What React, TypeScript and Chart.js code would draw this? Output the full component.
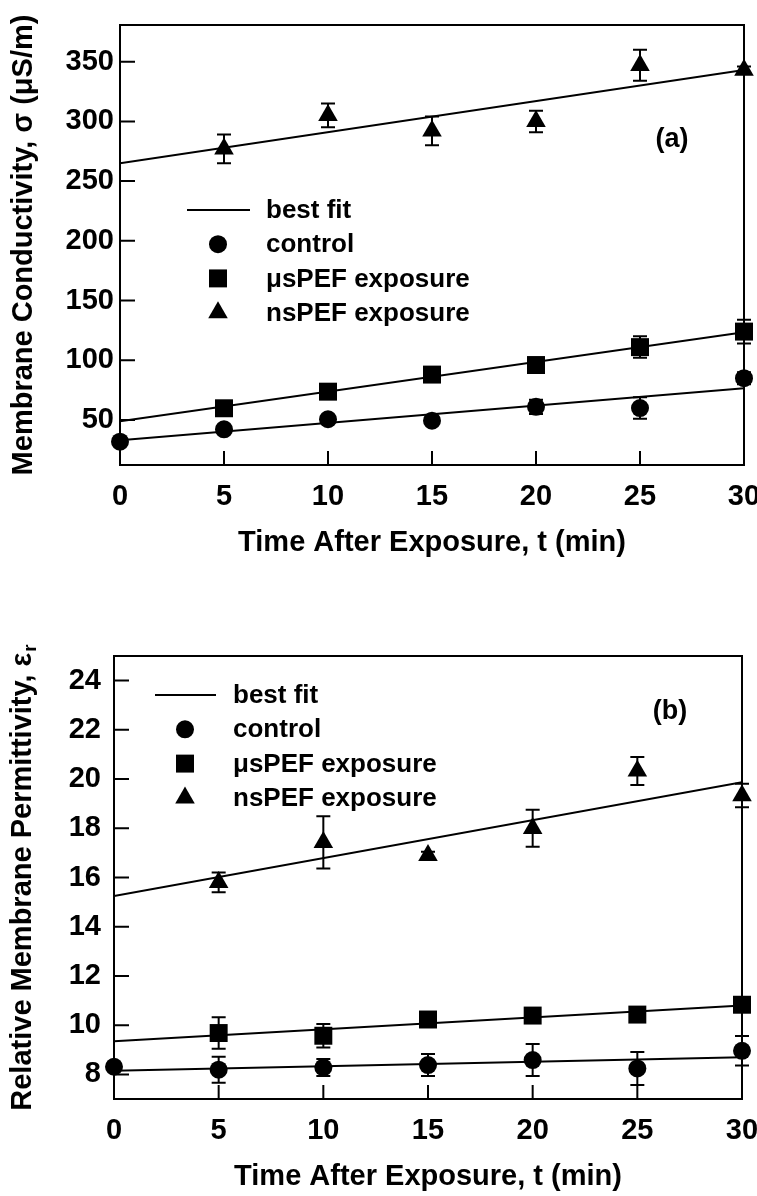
import React, { useEffect, useRef } from 'react';
import { Chart, registerables } from 'chart.js';

Chart.register(...registerables);

const FONT = "'Liberation Sans', Arial, Helvetica, sans-serif";

// ---------- shared ----------
const times = [0, 5, 10, 15, 20, 25, 30];
const exposureTimes = [5, 10, 15, 20, 25, 30];
const fitTimes = [0, 30];
const xTicks = [0, 5, 10, 15, 20, 25, 30];
const xTitle = 'Time After Exposure, t (min)';
const legendLabels = ['best fit', 'control', 'μsPEF exposure', 'nsPEF exposure'];

// ---------- panel (a): conductivity ----------
const yTicksA = [50, 100, 150, 200, 250, 300, 350];
const yTitleA = 'Membrane Conductivity, σ (μS/m)';
const controlA = [31.8, 42.2, 50.6, 49.4, 61, 60, 85];
const controlErrA = [0, 2, 2, 3, 6, 9, 5];
const usA = [59.8, 73.7, 88, 96, 111, 124];
const usErrA = [2, 2, 3, 3, 9, 10];
const nsA = [277, 305, 292, 300, 347, 343];
const nsErrA = [12, 10, 12, 9, 13, 3];
const fitControlA = [33, 76.5];
const fitUsA = [49, 123.5];
const fitNsA = [265, 343];

// ---------- panel (b): permittivity ----------
const yTicksB = [8, 10, 12, 14, 16, 18, 20, 22, 24];
const yTitleB = 'Relative Membrane Permittivity, ε';
const yTitleBSub = 'r';
const controlB = [8.31, 8.19, 8.28, 8.38, 8.58, 8.24, 8.96];
const controlErrB = [0, 0.53, 0.35, 0.45, 0.65, 0.67, 0.6];
const usB = [9.68, 9.57, 10.23, 10.39, 10.43, 10.83];
const usErrB = [0.64, 0.48, 0.1, 0.1, 0.1, 0.25];
const nsB = [15.8, 17.43, 16.9, 18.0, 20.33, 19.33];
const nsErrB = [0.4, 1.06, 0.15, 0.75, 0.57, 0.48];
const fitControlB = [8.15, 8.7];
const fitUsB = [9.35, 10.8];
const fitNsB = [15.25, 19.87];

const R_CIRCLE = 9;
const R_RECT = 12.7;
const R_TRI = 11.3;

const pts = (xs: number[], ys: number[]) => xs.map((x, i) => ({ x, y: ys[i] }));

function drawMarker(ctx: CanvasRenderingContext2D, style: string, x: number, y: number) {
  ctx.beginPath();
  if (style === 'circle') {
    ctx.arc(x, y, R_CIRCLE, 0, Math.PI * 2);
  } else if (style === 'rect') {
    const s = R_RECT * Math.SQRT1_2;
    ctx.rect(x - s, y - s, 2 * s, 2 * s);
  } else {
    const r = R_TRI;
    ctx.moveTo(x, y - r);
    ctx.lineTo(x + 0.866 * r, y + 0.5 * r);
    ctx.lineTo(x - 0.866 * r, y + 0.5 * r);
    ctx.closePath();
  }
  ctx.fill();
}

const errorBars = {
  id: 'errorBars',
  beforeDatasetsDraw(chart: any) {
    const { ctx } = chart;
    const y = chart.scales.y;
    ctx.save();
    ctx.strokeStyle = '#000';
    ctx.lineWidth = 2;
    chart.data.datasets.forEach((ds: any, i: number) => {
      if (!ds.errors) return;
      const meta = chart.getDatasetMeta(i);
      meta.data.forEach((pt: any, j: number) => {
        const e = ds.errors[j];
        if (!e) return;
        const v = ds.data[j].y;
        const px = pt.x;
        const yt = y.getPixelForValue(v + e);
        const yb = y.getPixelForValue(v - e);
        ctx.beginPath();
        ctx.moveTo(px, yt);
        ctx.lineTo(px, yb);
        ctx.moveTo(px - 7, yt);
        ctx.lineTo(px + 7, yt);
        ctx.moveTo(px - 7, yb);
        ctx.lineTo(px + 7, yb);
        ctx.stroke();
      });
    });
    ctx.restore();
  },
};

const frame = {
  id: 'frame',
  afterDatasetsDraw(chart: any) {
    const { ctx, chartArea } = chart;
    const { left, right, top, bottom } = chartArea;
    const x = chart.scales.x;
    const y = chart.scales.y;
    ctx.save();
    ctx.strokeStyle = '#000';
    ctx.lineWidth = 2;
    ctx.strokeRect(left, top, right - left, bottom - top);
    ctx.beginPath();
    y.ticks.forEach((t: any) => {
      const py = y.getPixelForValue(t.value);
      ctx.moveTo(left, py);
      ctx.lineTo(left + 15, py);
    });
    x.ticks.forEach((t: any) => {
      const px = x.getPixelForValue(t.value);
      ctx.moveTo(px, bottom);
      ctx.lineTo(px, bottom - 14);
    });
    ctx.stroke();
    ctx.restore();
  },
};

function makeDeco(p: any) {
  return {
    id: 'deco',
    afterDraw(chart: any) {
      const { ctx, chartArea } = chart;
      ctx.save();
      ctx.fillStyle = '#000';
      ctx.strokeStyle = '#000';
      // legend
      ctx.font = `bold 26px ${FONT}`;
      ctx.textBaseline = 'middle';
      ctx.textAlign = 'left';
      const styles = ['line', 'circle', 'rect', 'triangle'];
      legendLabels.forEach((lab, i) => {
        const ry = p.legendY + i * p.legendGap;
        if (styles[i] === 'line') {
          ctx.lineWidth = 2;
          ctx.beginPath();
          ctx.moveTo(p.lineX0, ry);
          ctx.lineTo(p.lineX1, ry);
          ctx.stroke();
        } else {
          drawMarker(ctx, styles[i], p.markerX, ry);
        }
        ctx.fillText(lab, p.textX, ry + 1);
      });
      // panel label
      ctx.font = `bold 27px ${FONT}`;
      ctx.textAlign = 'center';
      ctx.fillText(p.panelLabel, p.panelX, p.panelY);
      // custom y title with subscript
      if (p.customTitle) {
        const cy = (chartArea.top + chartArea.bottom) / 2;
        ctx.translate(p.titleX, cy);
        ctx.rotate(-Math.PI / 2);
        const mainFont = `bold 29px ${FONT}`;
        const subFont = `bold 19px ${FONT}`;
        ctx.font = subFont;
        const ws = ctx.measureText(p.customSub).width;
        ctx.font = mainFont;
        const wm = ctx.measureText(p.customTitle).width;
        const start = -(wm + ws + 1) / 2;
        ctx.textAlign = 'left';
        ctx.fillText(p.customTitle, start, 0);
        ctx.font = subFont;
        ctx.fillText(p.customSub, start + wm + 1, 8);
      }
      ctx.restore();
    },
  };
}

function makeConfig(p: any): any {
  const tickFont = { family: FONT, size: 29, weight: 'bold' };
  const scatterDs = (label: string, data: any[], errors: number[], style: string, r: number) => ({
    type: 'scatter',
    label,
    data,
    errors,
    pointStyle: style,
    pointRadius: r,
    pointHoverRadius: r,
    pointBackgroundColor: '#000',
    pointBorderColor: '#000',
    pointBorderWidth: 0,
    showLine: false,
    clip: false,
  });
  const lineDs = (data: any[]) => ({
    type: 'line',
    label: 'best fit',
    data,
    borderColor: '#000',
    borderWidth: 2,
    pointRadius: 0,
    showLine: true,
    fill: false,
  });
  return {
    type: 'scatter',
    data: {
      datasets: [
        scatterDs('control', pts(times, p.control), p.controlErr, 'circle', R_CIRCLE),
        scatterDs('μsPEF exposure', pts(exposureTimes, p.us), p.usErr, 'rect', R_RECT),
        scatterDs('nsPEF exposure', pts(exposureTimes, p.ns), p.nsErr, 'triangle', R_TRI),
        lineDs(pts(fitTimes, p.fitControl)),
        lineDs(pts(fitTimes, p.fitUs)),
        lineDs(pts(fitTimes, p.fitNs)),
      ],
    },
    options: {
      animation: false,
      responsive: false,
      events: [],
      layout: { padding: { top: p.padTop, right: p.padRight, left: 0, bottom: 0 } },
      plugins: { legend: { display: false }, tooltip: { enabled: false } },
      scales: {
        x: {
          type: 'linear',
          min: 0,
          max: 30,
          afterBuildTicks: (s: any) => {
            s.ticks = xTicks.map((v) => ({ value: v }));
          },
          afterFit: (s: any) => {
            s.height = 97;
            s.paddingLeft = 0;
            s.paddingRight = 0;
          },
          grid: { display: false, drawTicks: false },
          border: { display: false },
          ticks: { autoSkip: false, maxRotation: 0, padding: 15, color: '#000', font: tickFont },
          title: {
            display: true,
            text: xTitle,
            color: '#000',
            font: { family: FONT, size: 29, weight: 'bold' },
            padding: { top: 0, bottom: 2 },
          },
        },
        y: {
          type: 'linear',
          min: p.yMin,
          max: p.yMax,
          afterBuildTicks: (s: any) => {
            s.ticks = p.yTicks.map((v: number) => ({ value: v }));
          },
          afterFit: (s: any) => {
            s.width = p.yWidth;
            s.paddingTop = 0;
            s.paddingBottom = 0;
          },
          grid: { display: false, drawTicks: false },
          border: { display: false },
          ticks: { autoSkip: false, padding: p.yTickPad, color: '#000', font: tickFont },
          title: {
            display: !!p.yTitle,
            text: p.yTitle || '',
            color: '#000',
            font: { family: FONT, size: 29, weight: 'bold' },
            padding: { top: 7, bottom: 0 },
          },
        },
      },
    },
    plugins: [errorBars, frame, makeDeco(p)],
  };
}

const panelA = {
  control: controlA, controlErr: controlErrA,
  us: usA, usErr: usErrA,
  ns: nsA, nsErr: nsErrA,
  fitControl: fitControlA, fitUs: fitUsA, fitNs: fitNsA,
  yTicks: yTicksA, yMin: 12.3, yMax: 380.7,
  yTitle: yTitleA,
  padTop: 25, padRight: 13, yWidth: 120, yTickPad: 6,
  legendY: 210, legendGap: 34.2, lineX0: 187, lineX1: 250, markerX: 218, textX: 266,
  panelLabel: '(a)', panelX: 672, panelY: 140,
};

const panelB = {
  control: controlB, controlErr: controlErrB,
  us: usB, usErr: usErrB,
  ns: nsB, nsErr: nsErrB,
  fitControl: fitControlB, fitUs: fitUsB, fitNs: fitNsB,
  yTicks: yTicksB, yMin: 7, yMax: 25,
  yTitle: '',
  customTitle: yTitleB, customSub: yTitleBSub, titleX: 23,
  padTop: 58, padRight: 15, yWidth: 114, yTickPad: 13,
  legendY: 97, legendGap: 34.3, lineX0: 155, lineX1: 216, markerX: 185, textX: 233,
  panelLabel: '(b)', panelX: 670, panelY: 114,
};

function Panel({ params, top, height }: { params: any; top: number; height: number }) {
  const ref = useRef<HTMLCanvasElement | null>(null);
  useEffect(() => {
    if (!ref.current) return;
    const chart = new Chart(ref.current, makeConfig(params));
    return () => chart.destroy();
  }, [params]);
  return (
    <canvas
      ref={ref}
      width={757}
      height={height}
      style={{ position: 'absolute', left: 0, top, width: 757, height, display: 'block' }}
    />
  );
}

export default function App() {
  return (
    <div style={{ position: 'absolute', left: 0, top: 0, width: 757, height: 1196, background: '#fff' }}>
      <Panel params={panelA} top={0} height={562} />
      <Panel params={panelB} top={598} height={598} />
    </div>
  );
}
